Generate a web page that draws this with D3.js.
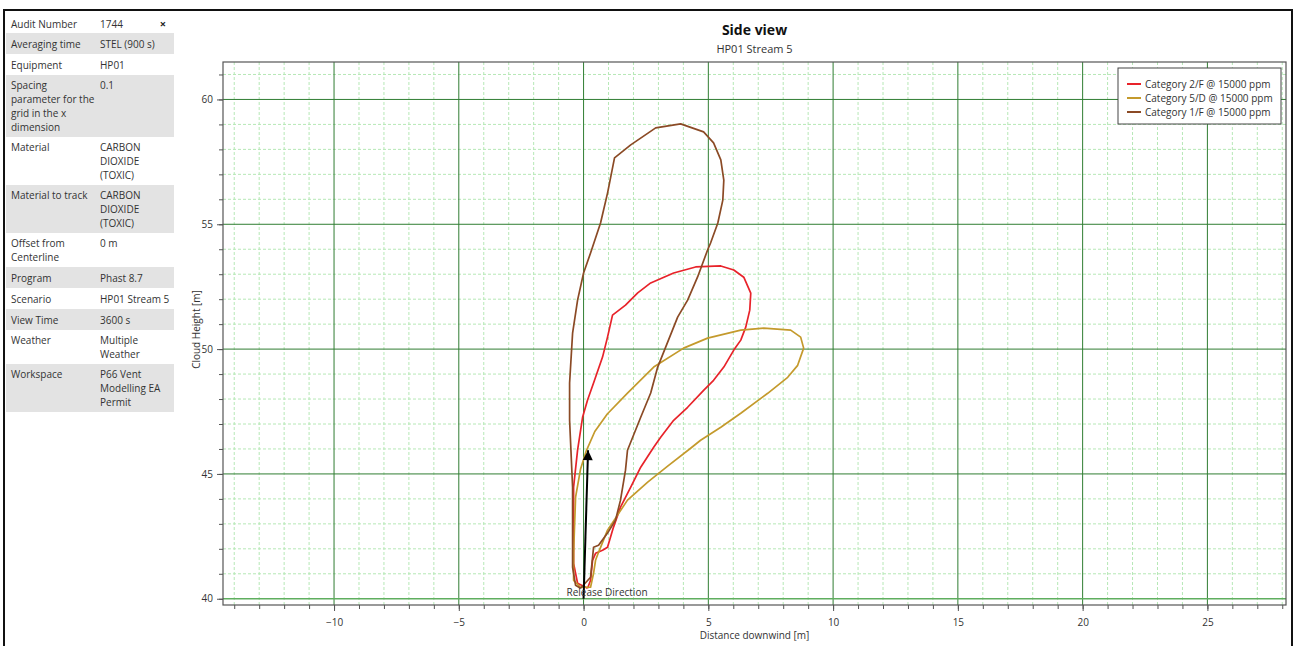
<!DOCTYPE html>
<html>
<head>
<meta charset="utf-8">
<script src="https://cdn.jsdelivr.net/npm/d3@7"></script>
<style>
  body { margin: 0; background: #fff; }
  text { font-family: "Open Sans", "Noto Sans", sans-serif; fill: #333; }
</style>
</head>
<body>
<div id="graph"></div>
<script>
// info table
var tableLabels = [["Audit Number"], ["Averaging time"], ["Equipment"],
    ["Spacing", "parameter for the", "grid in the x", "dimension"],
    ["Material"], ["Material to track"], ["Offset from", "Centerline"],
    ["Program"], ["Scenario"], ["View Time"], ["Weather"], ["Workspace"]];
var tableValues = [["1744"], ["STEL (900 s)"], ["HP01"], ["0.1"],
    ["CARBON", "DIOXIDE", "(TOXIC)"], ["CARBON", "DIOXIDE", "(TOXIC)"], ["0 m"],
    ["Phast 8.7"], ["HP01 Stream 5"], ["3600 s"], ["Multiple", "Weather"],
    ["P66 Vent", "Modelling EA", "Permit"]];

// chart texts
var title = "Side view";
var subtitle = "HP01 Stream 5";
var xLabel = "Distance downwind [m]";
var yLabel = "Cloud Height [m]";
var seriesNames = ["Category 2/F @ 15000 ppm", "Category 5/D @ 15000 ppm", "Category 1/F @ 15000 ppm"];
var seriesColors = ["#e8232a", "#c49a2c", "#8b4a25"];

// ticks
var xMajor = [-10, -5, 0, 5, 10, 15, 20, 25];
var yMajor = [40, 45, 50, 55, 60];
var xMinor = d3.range(-14, 29, 1);
var yMinor = d3.range(40, 62, 1);

// cloud outlines [distance, height]
var cat2F = [[0.16, 40.42], [0.28, 40.74], [0.36, 41.54], [0.48, 41.82], [0.76, 41.94], [0.96, 42.06],
    [1.20, 42.87], [1.48, 43.67], [1.89, 44.47], [2.29, 45.27], [2.81, 46.07], [3.09, 46.47],
    [3.61, 47.15], [4.17, 47.67], [4.81, 48.35], [5.21, 48.75], [5.62, 49.28], [6.02, 49.96],
    [6.30, 50.36], [6.50, 50.88], [6.66, 51.56], [6.70, 52.24], [6.42, 52.88], [6.02, 53.17],
    [5.50, 53.33], [4.49, 53.29], [3.61, 53.05], [2.69, 52.65], [2.17, 52.25], [1.68, 51.76],
    [1.16, 51.36], [0.96, 50.48], [0.76, 49.68], [0.40, 48.64], [0.16, 47.96], [-0.04, 47.27],
    [-0.24, 45.95], [-0.40, 44.47], [-0.40, 41.42], [-0.24, 40.62], [0.16, 40.42]];
var cat5D = [[-0.12, 40.46], [0.28, 40.46], [0.40, 41.02], [0.48, 41.54], [0.60, 41.86], [0.96, 42.75],
    [1.36, 43.35], [1.76, 43.95], [2.57, 44.67], [3.37, 45.31], [4.29, 46.03], [4.69, 46.35],
    [5.50, 46.87], [6.30, 47.43], [7.38, 48.23], [8.18, 48.87], [8.58, 49.35], [8.82, 50.04],
    [8.70, 50.48], [8.30, 50.76], [7.22, 50.84], [6.30, 50.76], [4.97, 50.44], [4.01, 50.04],
    [2.81, 49.28], [1.76, 48.24], [0.95, 47.40], [0.45, 46.70], [0.10, 45.90], [-0.12, 45.20],
    [-0.32, 44.07], [-0.40, 41.82], [-0.40, 40.74], [-0.12, 40.46]];
var cat1F = [[-0.12, 40.42], [0.28, 40.86], [0.40, 42.06], [0.60, 42.14], [0.96, 42.63], [1.28, 43.15],
    [1.48, 43.95], [1.68, 45.15], [1.76, 45.95], [2.29, 47.27], [2.69, 48.24], [2.97, 49.28],
    [3.29, 50.08], [3.77, 51.28], [4.17, 51.96], [4.57, 52.89], [4.97, 53.97], [5.09, 54.25],
    [5.38, 55.05], [5.58, 55.97], [5.62, 56.77], [5.50, 57.58], [5.21, 58.26], [4.81, 58.70],
    [3.89, 59.02], [2.89, 58.86], [1.89, 58.18], [1.24, 57.66], [0.96, 56.25], [0.68, 55.05],
    [0.28, 53.85], [0.00, 53.05], [-0.24, 51.96], [-0.44, 50.64], [-0.56, 48.64], [-0.56, 47.15],
    [-0.44, 44.47], [-0.44, 41.26], [-0.32, 40.54], [-0.12, 40.42]];
var series = [cat2F, cat5D, cat1F];

// release direction arrow [distance, height]
var releaseArrow = [[0, 40], [0.18, 45.95]];
var releaseLabel = "Release Direction";

// measurements
var width = 1295;
var height = 646;
var plot = { left: 223, right: 1286, top: 62, bottom: 605 };

var svg = d3.select("#graph").append("svg")
    .attr("width", width)
    .attr("height", height);

// outer frame
svg.append("path")
    .attr("d", "M4,646V10H1292V646")
    .attr("fill", "none")
    .attr("stroke", "#111")
    .attr("stroke-width", 2);

// info table
var rowTop = 14;
var lineH = 14;
var tbl = svg.append("g");
tableLabels.forEach(function (lab, i) {
    var n = Math.max(lab.length, tableValues[i].length);
    var h = n == 1 ? 21 : n * lineH + 6;
    if (i == 0) h = 19;
    if (i % 2 == 1) {
        tbl.append("rect")
            .attr("x", 6).attr("y", rowTop)
            .attr("width", 168).attr("height", h)
            .attr("fill", "#e3e3e3");
    }
    var base = rowTop + (n == 1 ? h / 2 + 4 : 14);
    lab.forEach(function (t, j) {
        tbl.append("text").attr("x", 11).attr("y", base + j * lineH)
            .style("font-size", "10px").text(t);
    });
    tableValues[i].forEach(function (t, j) {
        tbl.append("text").attr("x", 100).attr("y", base + j * lineH)
            .style("font-size", "10px").text(t);
    });
    rowTop += h;
});
tbl.append("text").attr("x", 163).attr("y", 28)
    .attr("text-anchor", "middle")
    .style("font-size", "11px").style("font-weight", "bold").style("fill", "#222")
    .text("\u00d7");

// scales
var x = d3.scaleLinear().domain([-14.45, 28.15]).range([plot.left, plot.right]);
var y = d3.scaleLinear().domain([39.75, 61.5]).range([plot.bottom, plot.top]);

// grid
var grid = svg.append("g");
grid.selectAll(".vminor").data(xMinor.filter(function (d) { return d % 5 != 0; }))
    .enter().append("line")
    .attr("x1", function (d) { return x(d); }).attr("x2", function (d) { return x(d); })
    .attr("y1", plot.top).attr("y2", plot.bottom)
    .attr("stroke", "#b6e8b6").attr("stroke-dasharray", "3,2");
grid.selectAll(".hminor").data(yMinor.filter(function (d) { return d % 5 != 0; }))
    .enter().append("line")
    .attr("y1", function (d) { return y(d); }).attr("y2", function (d) { return y(d); })
    .attr("x1", plot.left).attr("x2", plot.right)
    .attr("stroke", "#b6e8b6").attr("stroke-dasharray", "3,2");
grid.selectAll(".vmajor").data(xMajor)
    .enter().append("line")
    .attr("x1", function (d) { return x(d); }).attr("x2", function (d) { return x(d); })
    .attr("y1", plot.top).attr("y2", plot.bottom)
    .attr("stroke", "#2f7d32");
grid.selectAll(".hmajor").data(yMajor)
    .enter().append("line")
    .attr("y1", function (d) { return y(d); }).attr("y2", function (d) { return y(d); })
    .attr("x1", plot.left).attr("x2", plot.right)
    .attr("stroke", function (d) { return d == 40 ? "#5fae5f" : "#2f7d32"; })
    .attr("stroke-width", function (d) { return d == 40 ? 1.5 : 1; });

// axes
function styleAxis(g) {
    g.select(".domain").remove();
    g.selectAll("line").attr("stroke", "#555");
    g.selectAll("text").style("font-size", "10px").style("fill", "#333")
        .style("font-family", "'Open Sans', sans-serif");
}
svg.append("g").attr("transform", "translate(0," + plot.bottom + ")")
    .call(d3.axisBottom(x).tickValues(xMinor).tickSize(4).tickFormat(""))
    .call(styleAxis);
svg.append("g").attr("transform", "translate(0," + plot.bottom + ")")
    .call(d3.axisBottom(x).tickValues(xMajor).tickSize(6).tickPadding(8).tickFormat(d3.format("d")))
    .call(styleAxis);
svg.append("g").attr("transform", "translate(" + plot.left + ",0)")
    .call(d3.axisLeft(y).tickValues(yMinor).tickSize(4).tickFormat(""))
    .call(styleAxis);
svg.append("g").attr("transform", "translate(" + plot.left + ",0)")
    .call(d3.axisLeft(y).tickValues(yMajor).tickSize(6).tickPadding(4).tickFormat(d3.format("d")))
    .call(styleAxis);

svg.append("rect")
    .attr("x", plot.left).attr("y", plot.top)
    .attr("width", plot.right - plot.left).attr("height", plot.bottom - plot.top)
    .attr("fill", "none").attr("stroke", "#555").attr("stroke-width", 1.2);

// axis labels
svg.append("text")
    .attr("x", (plot.left + plot.right) / 2).attr("y", 639)
    .attr("text-anchor", "middle").style("font-size", "10px")
    .text(xLabel);
svg.append("text")
    .attr("transform", "translate(200," + ((plot.top + plot.bottom) / 2 - 4) + ") rotate(-90)")
    .attr("text-anchor", "middle").style("font-size", "10px")
    .text(yLabel);

// titles
svg.append("text")
    .attr("x", (plot.left + plot.right) / 2).attr("y", 35)
    .attr("text-anchor", "middle").style("font-size", "14px").style("font-weight", "bold")
    .style("fill", "#111")
    .text(title);
svg.append("text")
    .attr("x", (plot.left + plot.right) / 2).attr("y", 53)
    .attr("text-anchor", "middle").style("font-size", "11px")
    .text(subtitle);

// cloud outlines
var line = d3.line()
    .x(function (d) { return x(d[0]); })
    .y(function (d) { return y(d[1]); });
svg.selectAll(".cloud").data(series)
    .enter().append("path")
    .attr("class", "cloud")
    .attr("d", line)
    .attr("fill", "none")
    .attr("stroke", function (d, i) { return seriesColors[i]; })
    .attr("stroke-width", 1.7)
    .attr("stroke-linejoin", "round");

// release arrow
svg.append("defs").append("marker")
    .attr("id", "head")
    .attr("viewBox", "0 0 10 10")
    .attr("refX", 10).attr("refY", 5)
    .attr("markerUnits", "userSpaceOnUse")
    .attr("markerWidth", 15).attr("markerHeight", 10)
    .attr("orient", "auto")
    .append("path").attr("d", "M0,0L10,5L0,10Z").attr("fill", "#000");
svg.append("path")
    .attr("d", line(releaseArrow))
    .attr("stroke", "#000").attr("stroke-width", 2)
    .attr("fill", "none")
    .attr("marker-end", "url(#head)");
svg.append("text")
    .attr("x", x(releaseArrow[0][0]) - 17).attr("y", y(releaseArrow[0][1]) - 3)
    .style("font-size", "10px")
    .text(releaseLabel);

// legend
var legend = svg.append("g").attr("transform", "translate(1118,68)");
legend.append("rect")
    .attr("width", 163).attr("height", 56)
    .attr("fill", "#fff").attr("stroke", "#444");
seriesNames.forEach(function (name, i) {
    legend.append("line")
        .attr("x1", 9).attr("x2", 23)
        .attr("y1", 16 + i * 14).attr("y2", 16 + i * 14)
        .attr("stroke", seriesColors[i]).attr("stroke-width", 2);
    legend.append("text")
        .attr("x", 27).attr("y", 19.5 + i * 14)
        .style("font-size", "10px")
        .text(name);
});
</script>
</body>
</html>
